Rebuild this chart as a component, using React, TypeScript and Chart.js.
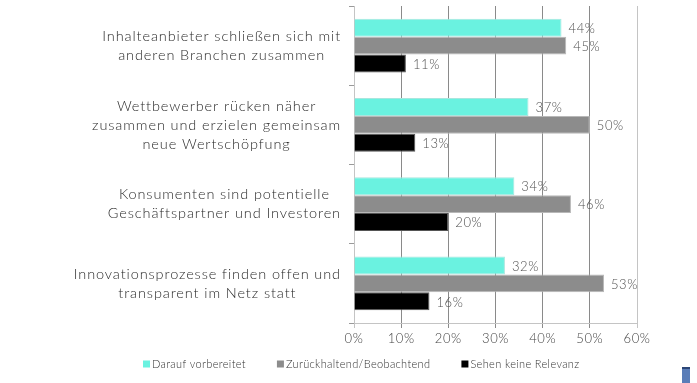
import React, { useEffect, useRef } from "react";
import { Chart, registerables } from "chart.js";

Chart.register(...registerables);

const categories: string[][] = [
  ["Inhalteanbieter schließen sich mit", "anderen Branchen zusammen"],
  ["Wettbewerber rücken näher", "zusammen und erzielen gemeinsam", "neue Wertschöpfung"],
  ["Konsumenten sind potentielle", "Geschäftspartner und Investoren"],
  ["Innovationsprozesse finden offen und", "transparent im Netz statt"],
];

const seriesNames = ["Darauf vorbereitet", "Zurückhaltend/Beobachtend", "Sehen keine Relevanz"];
const prepared = [44, 37, 34, 32];
const cautious = [45, 50, 46, 53];
const noRelevance = [11, 13, 20, 16];
const xTicks = [0, 10, 20, 30, 40, 50, 60];

const FONT = "Lato, 'Open Sans', sans-serif";

const yLabelPlugin = {
  id: "yLabels",
  afterDraw(chart: any) {
    const ctx = chart.ctx;
    const ys = chart.scales.y;
    ctx.save();
    ctx.font = `300 14.5px ${FONT}`;
    (ctx as any).letterSpacing = "0.9px";
    ctx.fillStyle = "#2a2a2a";
    ctx.textAlign = "center";
    ctx.textBaseline = "middle";
    categories.forEach((lines, i) => {
      const y = ys.getPixelForValue(i);
      const maxW = Math.max(...lines.map((l) => ctx.measureText(l).width));
      const cx = ys.right - 13 - maxW / 2;
      const lh = 19;
      lines.forEach((l, j) => {
        ctx.fillText(l, cx, y + (j - (lines.length - 1) / 2) * lh);
      });
    });
    ctx.restore();
  },
};

const valueLabelPlugin = {
  id: "valueLabels",
  afterDatasetsDraw(chart: any) {
    const ctx = chart.ctx;
    ctx.save();
    ctx.font = `300 13px ${FONT}`;
    (ctx as any).letterSpacing = "0.6px";
    ctx.fillStyle = "#505050";
    ctx.textAlign = "left";
    ctx.textBaseline = "middle";
    chart.data.datasets.forEach((ds: any, di: number) => {
      const meta = chart.getDatasetMeta(di);
      meta.data.forEach((bar: any, i: number) => {
        ctx.fillText(`${ds.data[i]}%`, bar.x + 7, bar.y + 1);
      });
    });
    ctx.restore();
  },
};

const legendPlugin = {
  id: "customLegend",
  afterDraw(chart: any) {
    const ctx = chart.ctx;
    ctx.save();
    ctx.font = `300 11px ${FONT}`;
    (ctx as any).letterSpacing = "0.35px";
    ctx.textBaseline = "middle";
    ctx.textAlign = "left";
    let x = 143;
    const y = 364;
    chart.data.datasets.forEach((ds: any) => {
      ctx.fillStyle = ds.backgroundColor;
      ctx.fillRect(x, y - 3.5, 7, 7);
      ctx.fillStyle = "#333333";
      ctx.fillText(ds.label, x + 9, y);
      x += 9 + ctx.measureText(ds.label).width + 31;
    });
    ctx.restore();
  },
};

const spacingPlugin = {
  id: "tickSpacing",
  beforeDraw(chart: any) {
    (chart.ctx as any).letterSpacing = "0.6px";
  },
};

export default function App() {
  const ref = useRef<HTMLCanvasElement | null>(null);
  useEffect(() => {
    if (!ref.current) return;
    const chart = new Chart(ref.current, {
      type: "bar",
      data: {
        labels: categories.map((c) => c.join(" ")),
        datasets: [
          { label: seriesNames[0], data: prepared, backgroundColor: "#6af2e0", borderColor: "#a8e6de", borderWidth: 1 },
          { label: seriesNames[1], data: cautious, backgroundColor: "#8c8c8c", borderColor: "#b8b8b8", borderWidth: 1 },
          { label: seriesNames[2], data: noRelevance, backgroundColor: "#000000", borderColor: "#555555", borderWidth: 1 },
        ],
      },
      options: {
        indexAxis: "y",
        responsive: false,
        animation: false,
        layout: { padding: { left: 0, right: 60, top: 6, bottom: 30 } },
        datasets: { bar: { categoryPercentage: 0.68, barPercentage: 1 } },
        plugins: { legend: { display: false }, tooltip: { enabled: false } },
        scales: {
          x: {
            min: 0,
            max: 60,
            afterBuildTicks: (scale: any) => {
              scale.ticks = xTicks.map((v) => ({ value: v }));
            },
            afterFit: (scale: any) => {
              scale.height = 30;
            },
            ticks: {
              callback: (v: any) => `${v}%`,
              font: { family: FONT, size: 13, weight: "300" },
              color: "#444444",
              padding: 3,
            },
            grid: {
              color: (c: any) => (c.index === 0 || c.index === xTicks.length - 1 ? "#c4c4c4" : "#8a8a8a"),
              tickLength: 5,
              lineWidth: 1,
            },
            border: { color: "#c4c4c4" },
          },
          y: {
            afterFit: (scale: any) => {
              scale.width = 354;
            },
            ticks: { display: false },
            grid: { drawOnChartArea: false, drawTicks: true, tickLength: 5, color: "#9a9a9a", offset: true },
            border: { color: "#c4c4c4" },
          },
        },
      },
      plugins: [spacingPlugin, yLabelPlugin, valueLabelPlugin, legendPlugin],
    } as any);
    return () => chart.destroy();
  }, []);
  return (
    <div style={{ position: "fixed", left: 0, top: 0, width: 697, height: 383, background: "#fff" }}>
      <canvas ref={ref} width={697} height={383} style={{ display: "block" }} />
      <div style={{ position: "absolute", left: 682, top: 367, width: 8, height: 16 }}>
        <div style={{ height: 2, background: "#2c4677" }} />
        <div style={{ height: 14, background: "#5a7db8" }} />
      </div>
    </div>
  );
}
